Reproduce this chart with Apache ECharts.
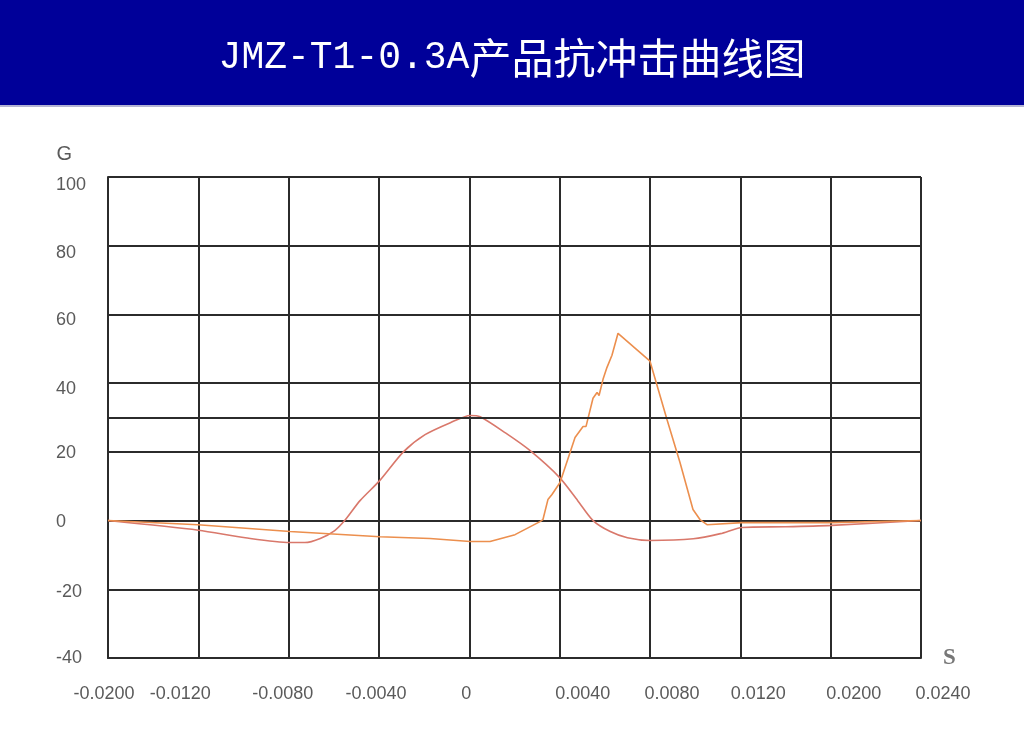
<!DOCTYPE html>
<html>
<head>
<meta charset="utf-8">
<script src="https://cdn.jsdelivr.net/npm/echarts@6/dist/echarts.min.js"></script>
<style>
html,body{margin:0;padding:0;background:#fff;}
#chart{width:1024px;height:743px;}
</style>
</head>
<body>
<div id="chart"></div>
<script>
// ---- data ----
const titleLatin = 'JMZ-T1-0.3A';
const titleCJK = '产品抗冲击曲线图';
const xAxisName = 'S';
const yAxisName = 'G';
const xTickLabels = ['-0.0200','-0.0120','-0.0080','-0.0040','0','0.0040','0.0080','0.0120','0.0200','0.0240'];
const extraGridValue = 30;

// x positions in grid-column units (0 = first vertical line, 9 = last)
const curveAX = [0, 1.0, 1.52, 2.01, 2.18, 2.35, 2.51, 2.62, 2.79, 3.01, 3.27, 3.51, 3.79, 4.01, 4.12, 4.40, 4.67, 5.00, 5.20, 5.37, 5.56, 5.75, 6.0, 6.48, 6.78, 7.02, 7.5, 8.01, 9];
const curveAG = [0, -2.8, -5, -6.4, -6.4, -5.2, -2.9, 0, 5.8, 11.7, 20, 25, 28.5, 30.6, 30.2, 25.5, 20.4, 12.5, 5.8, 0, -3.2, -5, -5.8, -5.3, -3.8, -2.0, -1.8, -1.4, 0];

const curveBX = [0, 0.996, 2.015, 3.011, 3.565, 4.008, 4.229, 4.506, 4.782, 4.815, 4.87, 4.915, 5.004, 5.115, 5.170, 5.259, 5.292, 5.369, 5.414, 5.436, 5.480, 5.524, 5.546, 5.579, 5.646, 6.000, 6.188, 6.332, 6.476, 6.553, 6.631, 7.019, 8.015, 9];
const curveBG = [0, -1.2, -3.2, -4.7, -5.2, -6.1, -6.1, -4.1, -0.3, 0.3, 6.1, 7.6, 11.1, 19.8, 24.2, 27.4, 27.4, 35.6, 37.3, 36.4, 41.1, 44.6, 44.3, 48.1, 54.5, 46.4, 29.4, 16.9, 3.2, 0.3, -1.2, -0.6, -0.6, 0];

// ---- styles ----
const xLabelShift = [-4, -18, -6, -3, -3, 23, 22, 18, 23, 22];
const yLabelShift = {'100': 8, '80': 7, '60': 6, '40': 6, '20': 1, '0': 1, '-20': 3, '-40': 0};
const labelFont = "'Liberation Sans', Arial, sans-serif";
const labelSize = 18;
const labelColor = '#5a5a5a';
const gridColor = '#2b2b2b';

function zip(a, b) { return a.map((v, i) => [v, b[i]]); }

const xRich = {};
xLabelShift.forEach((s, i) => {
  xRich['x' + i] = {
    fontFamily: labelFont, fontSize: labelSize, color: labelColor,
    padding: s >= 0 ? [0, 0, 0, 2 * s] : [0, -2 * s, 0, 0]
  };
});
const yRich = {};
Object.keys(yLabelShift).forEach((k, i) => {
  const s = yLabelShift[k];
  yRich['y' + i] = {
    fontFamily: labelFont, fontSize: labelSize, color: labelColor,
    padding: [2 * s, 0, 0, 0]
  };
});
const yKeys = Object.keys(yLabelShift);

const chart = echarts.init(document.getElementById('chart'), null, {renderer: 'canvas'});
chart.setOption({
  backgroundColor: '#ffffff',
  animation: false,
  graphic: [
    {type: 'rect', left: 0, top: 0, z: 0, shape: {width: 1024, height: 105}, style: {fill: '#000099'}},
    {type: 'rect', left: 0, top: 105, z: 0, shape: {width: 1024, height: 2}, style: {fill: '#b4b4d4'}}
  ],
  title: {
    left: 'center',
    top: 28,
    text: '{a|' + titleLatin + '}{b|' + titleCJK + '}',
    textStyle: {
      fontWeight: 'normal',
      rich: {
        a: {fontFamily: "'Liberation Mono', monospace", fontWeight: 'normal', fontSize: 38, color: '#ffffff', lineHeight: 50},
        b: {fontFamily: "'Noto Sans CJK SC', sans-serif", fontWeight: 'normal', fontSize: 42, color: '#ffffff', lineHeight: 50}
      }
    }
  },
  grid: {left: 108, top: 177, width: 813, height: 481, containLabel: false},
  xAxis: {
    type: 'value',
    min: 0, max: 9, interval: 1,
    name: xAxisName,
    nameLocation: 'end',
    nameGap: 22,
    nameTextStyle: {fontFamily: "'Liberation Serif', serif", fontWeight: 'bold', fontSize: 23, color: '#777777'},
    axisLine: {show: true, onZero: false, lineStyle: {color: gridColor, width: 2}},
    axisTick: {show: false},
    splitLine: {show: true, lineStyle: {color: gridColor, width: 2}},
    axisLabel: {
      margin: 27,
      formatter: function (v) { const i = Math.round(v); return '{x' + i + '|' + xTickLabels[i] + '}'; },
      rich: xRich
    }
  },
  yAxis: {
    type: 'value',
    min: -40, max: 100, interval: 20,
    name: yAxisName,
    nameLocation: 'end',
    nameGap: 13,
    nameTextStyle: {fontFamily: "'Liberation Sans', sans-serif", fontSize: 20, color: '#5a5a5a', align: 'right', padding: [0, 36, 0, 0]},
    axisLine: {show: true, lineStyle: {color: gridColor, width: 2}},
    axisTick: {show: false},
    splitLine: {show: true, lineStyle: {color: gridColor, width: 2}},
    axisLabel: {
      margin: 52,
      align: 'left',
      formatter: function (v) { const k = String(v); const i = yKeys.indexOf(k); return '{y' + i + '|' + k + '}'; },
      rich: yRich
    }
  },
  series: [
    {
      type: 'line',
      data: zip(curveAX, curveAG),
      showSymbol: false,
      smooth: 0.25,
      lineStyle: {color: '#d9786b', width: 1.6},
      markLine: {
        silent: true,
        symbol: ['none', 'none'],
        label: {show: false},
        lineStyle: {type: 'solid', color: gridColor, width: 2},
        data: [{yAxis: extraGridValue}]
      }
    },
    {
      type: 'line',
      data: zip(curveBX, curveBG),
      showSymbol: false,
      smooth: false,
      lineStyle: {color: '#ec8f4e', width: 1.6}
    }
  ]
});
</script>
</body>
</html>
